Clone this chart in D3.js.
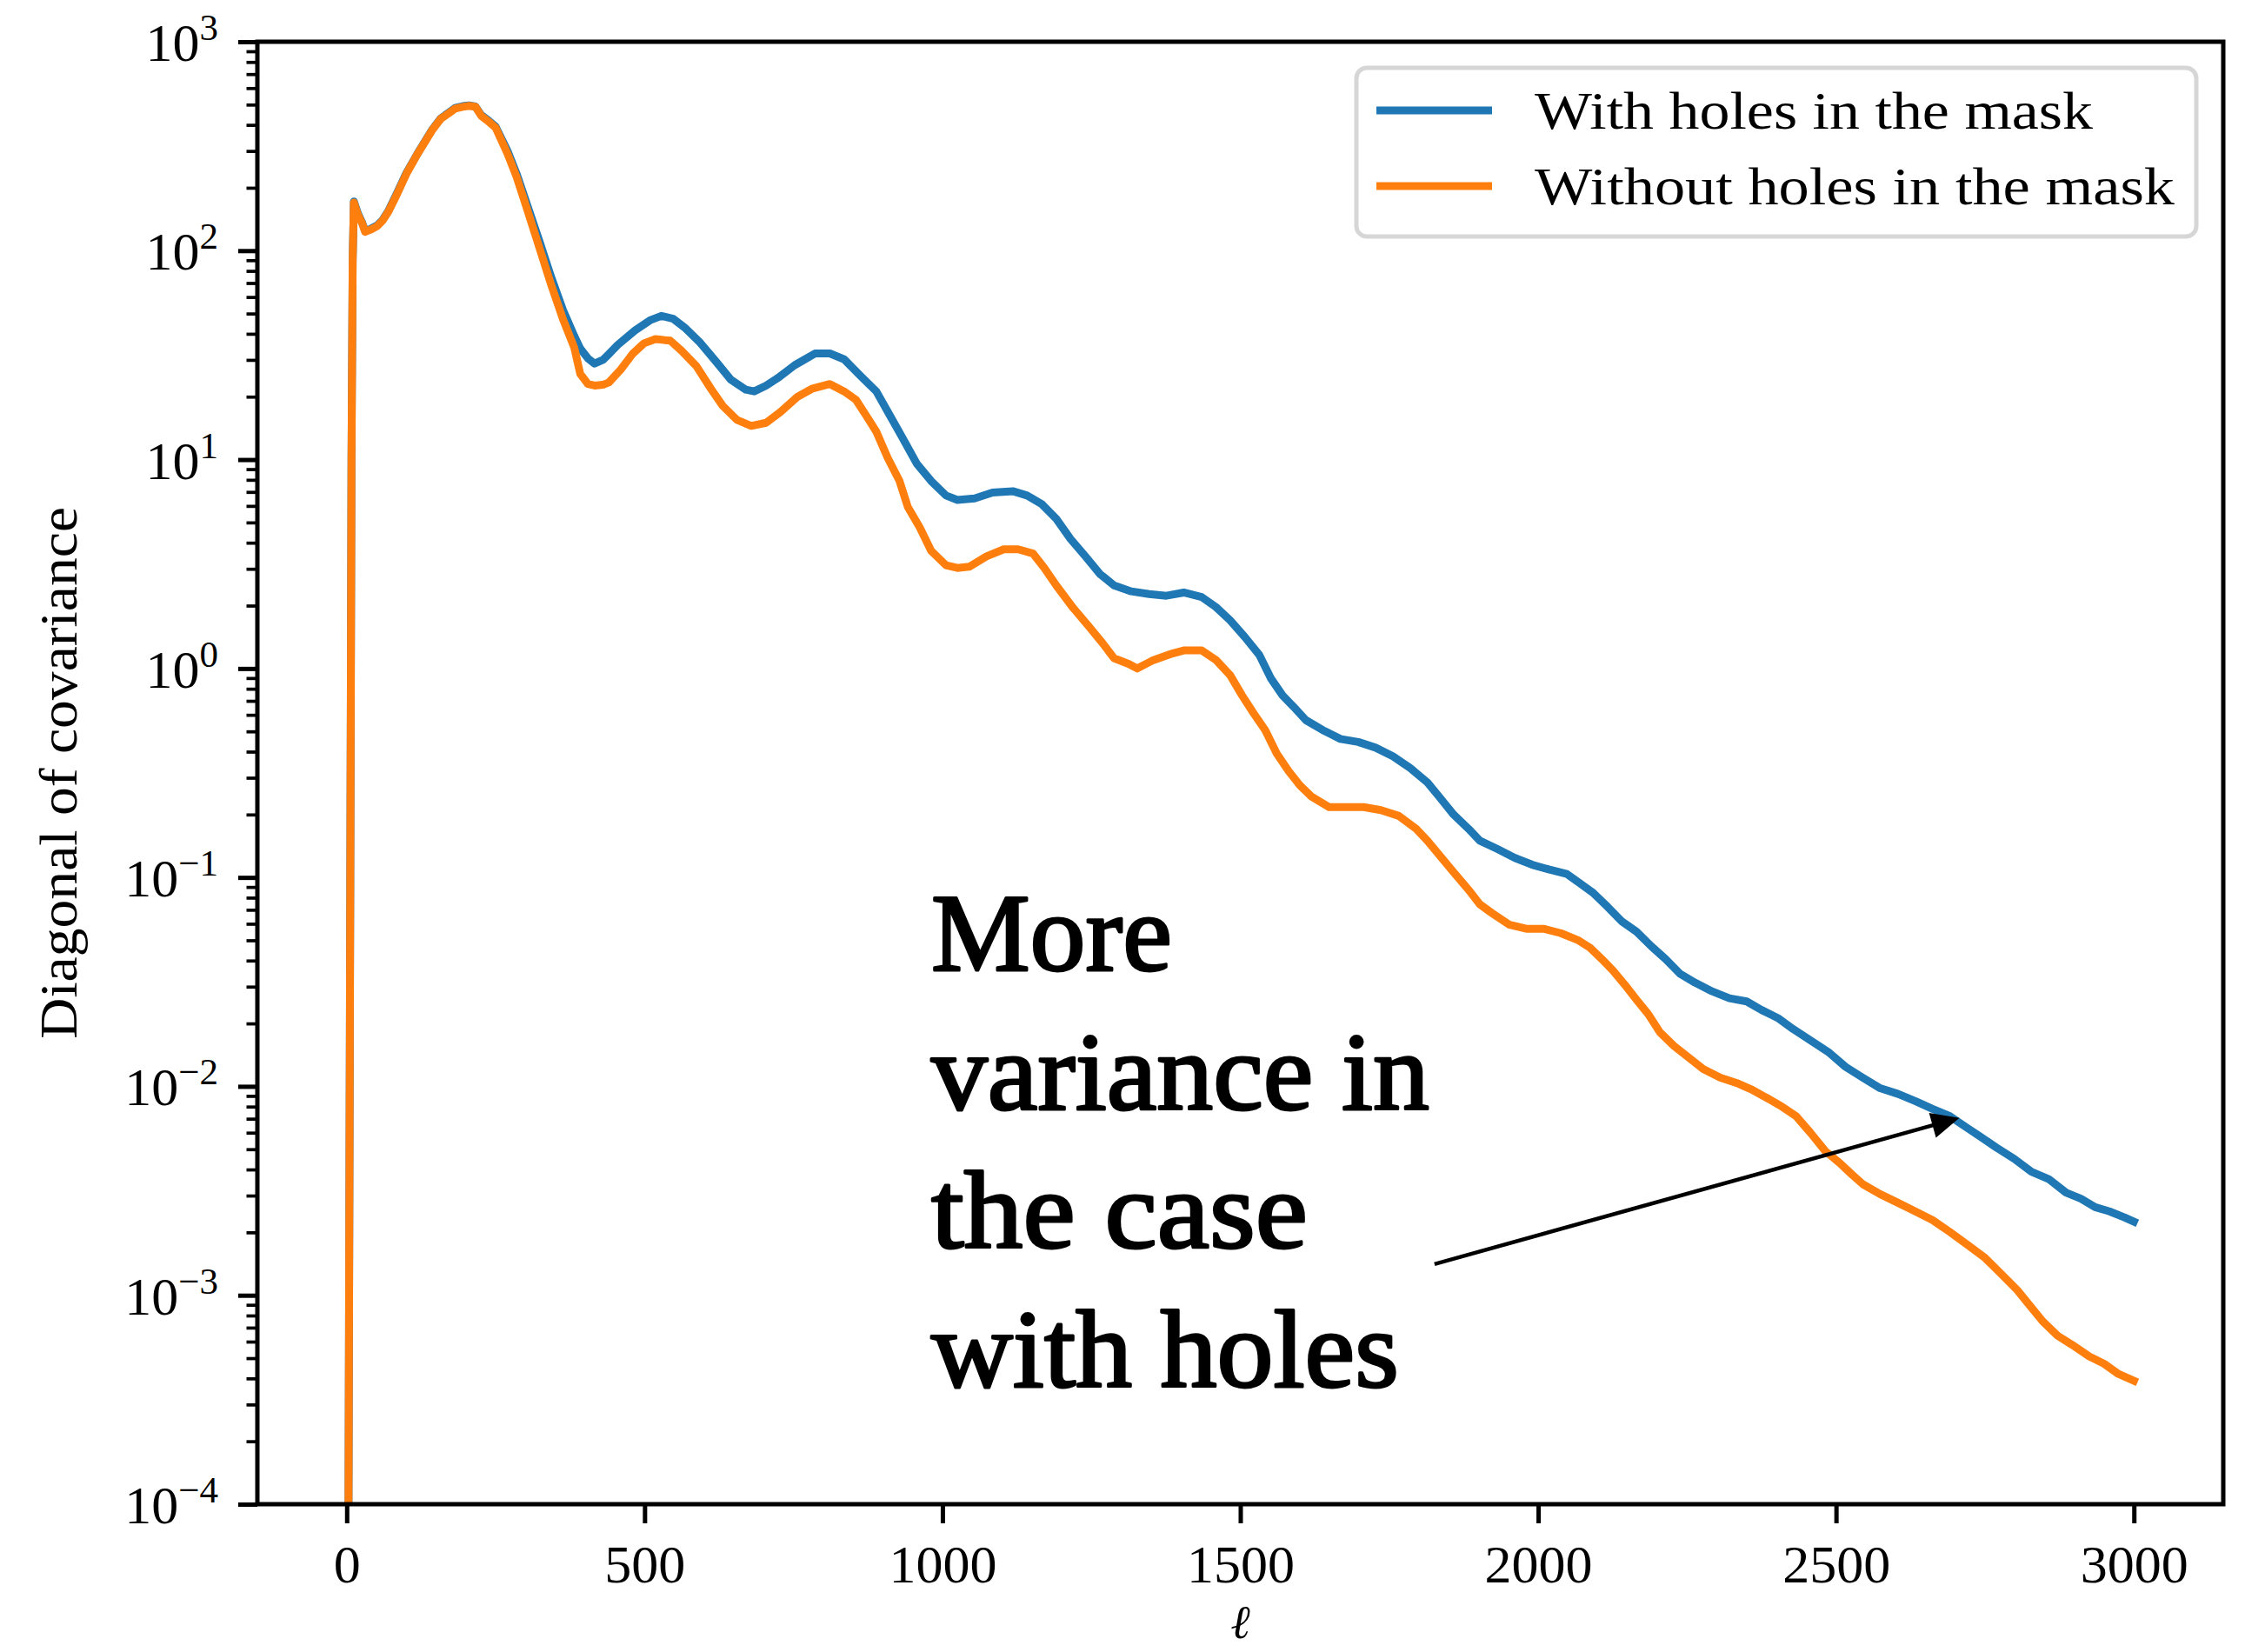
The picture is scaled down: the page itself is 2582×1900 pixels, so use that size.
<!DOCTYPE html>
<html>
<head>
<meta charset="utf-8">
<script src="https://cdn.jsdelivr.net/npm/d3@7"></script>
<style>
  html, body { margin: 0; padding: 0; background: #ffffff; }
  svg { display: block; }
</style>
</head>
<body>
<svg id="chart" width="2582" height="1900"></svg>
<script>
// Multipole grid and covariance diagonal for the mask with holes
const ellWith = [2, 3, 5, 8, 10, 12, 19, 26, 31, 40, 51, 60, 70, 85, 100, 119, 143, 158, 170, 182, 195, 205, 216, 226, 238, 250, 270, 285, 304, 324, 343, 363, 382, 392, 405, 416, 430, 440, 455, 484, 509, 528, 548, 567, 592, 621, 645, 670, 684, 704, 723, 752, 786, 811, 835, 864, 889, 908, 933, 957, 981, 1006, 1025, 1054, 1084, 1118, 1142, 1167, 1191, 1215, 1240, 1264, 1288, 1317, 1347, 1376, 1405, 1435, 1459, 1483, 1508, 1532, 1551, 1571, 1590, 1610, 1639, 1668, 1698, 1727, 1756, 1785, 1814, 1834, 1858, 1883, 1902, 1931, 1961, 1990, 2019, 2048, 2068, 2092, 2117, 2141, 2165, 2190, 2214, 2238, 2263, 2292, 2321, 2350, 2375, 2404, 2428, 2457, 2487, 2516, 2545, 2574, 2604, 2633, 2662, 2691, 2721, 2740, 2769, 2799, 2828, 2857, 2886, 2911, 2935, 2959, 2984, 3000];
const covWith = [1e-6, 1e-4, 1e-2, 10, 90, 172, 150, 136, 124, 127, 132, 140, 155, 190, 235, 292, 378, 430, 455, 482, 492, 496, 490, 445, 420, 392, 300, 234, 162, 110, 75, 52, 39, 34, 30.5, 28.8, 30, 32, 35.4, 41.5, 46.4, 48.7, 47.2, 42.9, 36.6, 29.2, 24.1, 21.6, 21.2, 22.6, 24.5, 28.3, 32.2, 32.2, 30.2, 24.9, 21.2, 17, 12.7, 9.55, 7.9, 6.73, 6.41, 6.52, 6.95, 7.06, 6.73, 6.11, 5.21, 4.17, 3.44, 2.84, 2.5, 2.34, 2.27, 2.23, 2.31, 2.2, 1.97, 1.7, 1.41, 1.16, 0.9, 0.743, 0.653, 0.566, 0.506, 0.46, 0.445, 0.418, 0.38, 0.334, 0.285, 0.243, 0.2, 0.171, 0.15, 0.137, 0.124, 0.115, 0.109, 0.104, 0.0946, 0.0845, 0.0721, 0.0614, 0.055, 0.0468, 0.0406, 0.0346, 0.0314, 0.0285, 0.0264, 0.0255, 0.0232, 0.0211, 0.0188, 0.0166, 0.0146, 0.0124, 0.011, 0.0098, 0.0092, 0.0085, 0.0078, 0.0072, 0.0063, 0.0058, 0.0051, 0.0045, 0.0039, 0.0036, 0.0031, 0.0029, 0.00264, 0.00252, 0.00236, 0.00225];

// Multipole grid and covariance diagonal for the mask without holes
const ellWithout = [2, 3, 5, 8, 10, 12, 19, 26, 31, 40, 51, 60, 70, 85, 100, 119, 143, 158, 170, 182, 195, 205, 216, 226, 238, 250, 270, 285, 304, 324, 343, 363, 382, 392, 405, 416, 430, 440, 460, 480, 499, 518, 543, 562, 587, 611, 631, 655, 679, 704, 728, 757, 782, 811, 835, 855, 874, 889, 908, 928, 942, 962, 981, 1006, 1025, 1045, 1074, 1103, 1127, 1152, 1171, 1191, 1220, 1245, 1269, 1288, 1313, 1327, 1352, 1386, 1405, 1435, 1459, 1483, 1503, 1522, 1542, 1561, 1581, 1600, 1620, 1649, 1678, 1707, 1736, 1766, 1795, 1814, 1834, 1858, 1883, 1902, 1922, 1951, 1980, 2009, 2038, 2068, 2087, 2107, 2126, 2146, 2165, 2185, 2204, 2228, 2253, 2277, 2306, 2336, 2360, 2384, 2409, 2433, 2457, 2482, 2506, 2526, 2545, 2574, 2604, 2633, 2662, 2691, 2721, 2750, 2779, 2804, 2823, 2847, 2872, 2896, 2925, 2950, 2974, 3000];
const covWithout = [1e-6, 1e-4, 1e-2, 10, 90, 170, 148, 135, 123, 126, 131, 139, 154, 188, 233, 291, 376, 428, 452, 479, 488, 493, 489, 441, 415, 388, 291, 226, 154, 102, 69, 47, 34.3, 25.7, 23, 22.6, 22.8, 23.4, 27, 32.1, 36, 37.7, 37.1, 33.2, 28, 21.9, 18.1, 15.5, 14.5, 15, 16.9, 20, 21.9, 23, 21.2, 19.3, 15.9, 13.6, 10.2, 7.89, 5.92, 4.73, 3.66, 3.12, 3.03, 3.07, 3.44, 3.72, 3.72, 3.55, 3.03, 2.5, 1.94, 1.6, 1.32, 1.12, 1.05, 1.0, 1.09, 1.18, 1.22, 1.22, 1.1, 0.928, 0.743, 0.613, 0.506, 0.392, 0.323, 0.276, 0.243, 0.217, 0.217, 0.217, 0.21, 0.197, 0.171, 0.15, 0.128, 0.106, 0.0873, 0.0744, 0.0676, 0.0595, 0.0568, 0.0568, 0.0541, 0.0499, 0.0461, 0.0406, 0.0357, 0.0305, 0.026, 0.0221, 0.0182, 0.0156, 0.0137, 0.0121, 0.011, 0.0103, 0.0096, 0.0088, 0.008, 0.0072, 0.006, 0.0049, 0.0043, 0.0038, 0.0034, 0.00305, 0.00277, 0.00252, 0.00229, 0.00201, 0.00174, 0.00151, 0.00125, 0.00106, 0.00091, 0.00075, 0.00064, 0.00058, 0.00051, 0.00047, 0.00042, 0.00039];

// Axis ticks and labels
const xTicks = [0, 500, 1000, 1500, 2000, 2500, 3000];
const yExponents = [-4, -3, -2, -1, 0, 1, 2, 3];
const seriesNames = ["With holes in the mask", "Without holes in the mask"];
const seriesColors = ["#1f77b4", "#ff7f0e"];
const xLabel = "\u2113";
const yLabel = "Diagonal of covariance";
const noteLines = ["More", "variance in", "the case", "with holes"];

// Layout
const plot = { left: 296, right: 2557, top: 48, bottom: 1730 };
const serif = "'Liberation Serif', 'Times New Roman', serif";
const svg = d3.select("#chart");
svg.append("rect").attr("width", 2582).attr("height", 1900).attr("fill", "#ffffff");

const x = d3.scaleLinear().domain([-150, 3150]).range([plot.left, plot.right]);
const y = d3.scaleLog().domain([1e-4, 1e3]).range([plot.bottom, plot.top]);

svg.append("defs").append("clipPath").attr("id", "plot-clip")
  .append("rect")
  .attr("x", plot.left).attr("y", plot.top)
  .attr("width", plot.right - plot.left).attr("height", plot.bottom - plot.top);

// Curves
const line = d3.line().x(d => x(d[0])).y(d => y(d[1]));
const seriesData = [
  d3.zip(ellWith, covWith),
  d3.zip(ellWithout, covWithout)
];
const curves = svg.append("g").attr("clip-path", "url(#plot-clip)");
seriesData.forEach((pts, i) => {
  curves.append("path")
    .datum(pts)
    .attr("d", line)
    .attr("fill", "none")
    .attr("stroke", seriesColors[i])
    .attr("stroke-width", 9)
    .attr("stroke-linejoin", "round")
    .attr("stroke-linecap", "square");
});

// Y axis: major and minor ticks
const majors = yExponents.map(e => Math.pow(10, e));
const minors = [];
yExponents.slice(0, -1).forEach(e => {
  for (let m = 2; m <= 9; m++) minors.push(m * Math.pow(10, e));
});

const yMajor = svg.append("g").attr("transform", `translate(${plot.left},0)`)
  .call(d3.axisLeft(y).tickValues(majors).tickSize(22).tickFormat(() => ""));
const yMinor = svg.append("g").attr("transform", `translate(${plot.left},0)`)
  .call(d3.axisLeft(y).tickValues(minors).tickSize(12.5).tickFormat(() => ""));
yMajor.select(".domain").remove();
yMinor.select(".domain").remove();
yMajor.selectAll(".tick line").attr("stroke", "#000").attr("stroke-width", 5);
yMinor.selectAll(".tick line").attr("stroke", "#000").attr("stroke-width", 3.7);

const yTickText = svg.append("g").selectAll("text").data(yExponents).join("text")
  .attr("x", 251)
  .attr("y", d => y(Math.pow(10, d)) + 22)
  .attr("text-anchor", "end")
  .style("font-family", serif)
  .style("font-size", "62px")
  .attr("fill", "#000");
yTickText.append("tspan").text("10");
yTickText.append("tspan")
  .attr("dy", -24)
  .style("font-size", "43px")
  .text(d => d < 0 ? "\u2212" + (-d) : String(d));

// X axis
const xAxis = svg.append("g").attr("transform", `translate(0,${plot.bottom})`)
  .call(d3.axisBottom(x).tickValues(xTicks).tickSize(22).tickPadding(24).tickFormat(d3.format("d")));
xAxis.select(".domain").remove();
xAxis.selectAll(".tick line").attr("stroke", "#000").attr("stroke-width", 5);
xAxis.selectAll(".tick text")
  .attr("fill", "#000")
  .attr("dy", "0.71em")
  .style("font-family", serif)
  .style("font-size", "62px");

// Spines
svg.append("rect")
  .attr("x", plot.left).attr("y", plot.top)
  .attr("width", plot.right - plot.left).attr("height", plot.bottom - plot.top)
  .attr("fill", "none").attr("stroke", "#000").attr("stroke-width", 5)
  .attr("stroke-linecap", "square");

// Axis titles
svg.append("text")
  .attr("x", (plot.left + plot.right) / 2)
  .attr("y", 1884)
  .attr("text-anchor", "middle")
  .style("font-family", "'DejaVu Serif', serif")
  .style("font-style", "italic")
  .style("font-size", "54px")
  .text(xLabel);

svg.append("text")
  .attr("transform", `translate(88,${(plot.top + plot.bottom) / 2}) rotate(-90)`)
  .attr("text-anchor", "middle")
  .attr("textLength", 612)
  .attr("lengthAdjust", "spacingAndGlyphs")
  .style("font-family", serif)
  .style("font-size", "62px")
  .text(yLabel);

// Legend
const legend = svg.append("g");
legend.append("rect")
  .attr("x", 1560).attr("y", 78).attr("width", 966).attr("height", 194)
  .attr("rx", 12).attr("ry", 12)
  .attr("fill", "#ffffff").attr("fill-opacity", 0.8)
  .attr("stroke", "#cccccc").attr("stroke-opacity", 0.8).attr("stroke-width", 5);
const legendWidths = [642, 736];
seriesNames.forEach((name, i) => {
  const cy = 127 + i * 87;
  legend.append("line")
    .attr("x1", 1583).attr("x2", 1716).attr("y1", cy).attr("y2", cy)
    .attr("stroke", seriesColors[i]).attr("stroke-width", 9);
  legend.append("text")
    .attr("x", 1765).attr("y", cy + 21)
    .attr("textLength", legendWidths[i])
    .attr("lengthAdjust", "spacingAndGlyphs")
    .style("font-family", serif)
    .style("font-size", "62px")
    .text(name);
});

// Annotation with arrow
const noteTail = [1826, 0.00141];
const noteTip = [2702, 0.0070];
const noteLeft = x(981);
const noteTop = y(0.0359);
const noteWidths = [277, 573, 433, 538];
const note = svg.append("g");
noteLines.forEach((t, i) => {
  note.append("text")
    .attr("x", noteLeft)
    .attr("y", noteTop + i * 159.5)
    .attr("textLength", noteWidths[i])
    .attr("lengthAdjust", "spacingAndGlyphs")
    .style("font-family", serif)
    .style("font-size", "128px")
    .attr("fill", "#000")
    .attr("stroke", "#000")
    .attr("stroke-width", 3)
    .attr("stroke-linejoin", "round")
    .text(t);
});

const x0 = x(noteTail[0]), y0 = y(noteTail[1]);
const x1 = x(noteTip[0]), y1 = y(noteTip[1]);
const ang = Math.atan2(y1 - y0, x1 - x0);
const headLen = 27, headHalf = 12.5;
const bx = x1 - headLen * Math.cos(ang), by = y1 - headLen * Math.sin(ang);
note.append("line")
  .attr("x1", x0).attr("y1", y0).attr("x2", bx).attr("y2", by)
  .attr("stroke", "#000").attr("stroke-width", 4.5);
note.append("path")
  .attr("d", d3.line()([
    [x1, y1],
    [bx + headHalf * Math.sin(ang), by - headHalf * Math.cos(ang)],
    [bx - headHalf * Math.sin(ang), by + headHalf * Math.cos(ang)]
  ]) + "Z")
  .attr("fill", "#000").attr("stroke", "#000").attr("stroke-width", 3)
  .attr("stroke-linejoin", "miter");
</script>
</body>
</html>
